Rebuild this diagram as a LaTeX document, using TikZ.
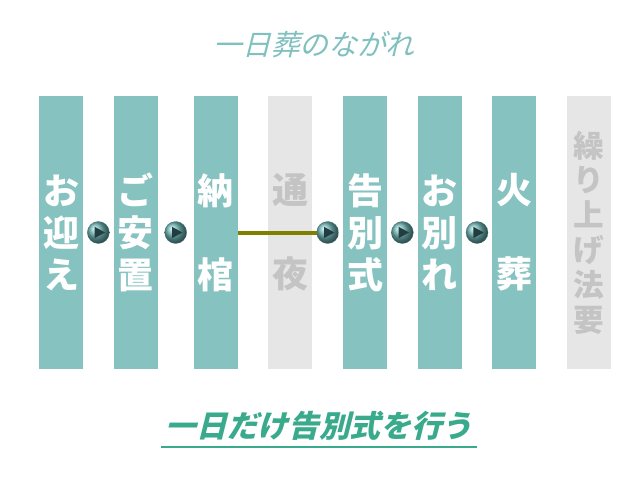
\documentclass[tikz,border=0pt]{standalone}
\usepackage{fontspec}
\newfontfamily\jpfont{Noto Sans CJK JP}
\newfontfamily\jpslant[FakeSlant=0.25]{Noto Sans CJK JP}
\usetikzlibrary{positioning}

\definecolor{barteal}{RGB}{133,194,192}
\definecolor{bargrey}{RGB}{230,230,230}
\definecolor{textgrey}{RGB}{196,196,196}
\definecolor{titleteal}{RGB}{128,192,190}
\definecolor{noteteal}{RGB}{58,170,140}
\definecolor{btnteal}{RGB}{110,180,180}
\definecolor{btntri}{RGB}{35,60,65}
\definecolor{lineolive}{RGB}{128,128,0}

\tikzset{
    stepbar/.style={rectangle, fill=barteal, text=white, inner sep=0pt,
        minimum width=33pt, minimum height=204.75pt, align=center,
        font=\jpfont\bfseries\fontsize{27}{31.5}\selectfont},
    skipbar/.style={stepbar, fill=bargrey, text=textgrey},
    nextbtn/.style={circle, minimum size=16.5pt, inner sep=0pt,
        ball color=btnteal, draw=btnteal!60!black, very thin,
        path picture={\fill[btntri]
            ([shift={(-2.75pt,4.25pt)}]path picture bounding box.center) --
            ([shift={(5pt,0pt)}]path picture bounding box.center) --
            ([shift={(-2.75pt,-4.25pt)}]path picture bounding box.center) -- cycle;}}
}

\begin{document}
\begin{tikzpicture}[
                        x=0.75pt, y=-0.75pt,
                        node distance=56pt
                    ]
                    \useasboundingbox [fill=white] (0,0) rectangle (639,480);

                    % Title
                    \node [text=titleteal, font=\jpslant\fontsize{21.5}{21.5}\selectfont] (title) at (314,45) {一日葬のながれ};

                    % Steps
                    \node [stepbar] (omukae) at (61,232.5) {お\\迎\\え};
                    \node [stepbar, right of=omukae] (goanchi) {ご\\安\\置};
                    \node [stepbar, right of=goanchi, node distance=60pt] (nokan) {納\\[31.5pt]棺};
                    \node [skipbar, right of=nokan] (tsuya) {通\\[31.5pt]夜};
                    \node [stepbar, right of=tsuya] (kokubetsu) {告\\別\\式};
                    \node [stepbar, right of=kokubetsu] (owakare) {お\\別\\れ};
                    \node [stepbar, right of=owakare] (kaso) {火\\[31.5pt]葬};
                    \node [skipbar, right of=kaso, font=\jpfont\bfseries\fontsize{23}{26.1}\selectfont] (kuriage) {繰\\り\\上\\げ\\法\\要};

                    % Buttons
                    \node [nextbtn, right of=omukae, node distance=28pt] (btna) {};
                    \node [nextbtn, right of=goanchi, node distance=30pt] (btnb) {};
                    \node [nextbtn, right of=tsuya, node distance=28pt] (btnc) {};
                    \node [nextbtn, right of=kokubetsu, node distance=28pt] (btnd) {};
                    \node [nextbtn, right of=owakare, node distance=28pt] (btne) {};

                    % Connections
                    \draw [lineolive, line width=3pt] (nokan.east) -- (btnc.west);

                    % Note
                    \node [text=noteteal, font=\jpslant\bfseries\fontsize{23}{23}\selectfont] (note) at (319,426) {一日だけ告別式を行う};
                    \draw [noteteal, line width=1.5pt] ([yshift=-1pt]note.south west) -- ([yshift=-1pt]note.south east);
                \end{tikzpicture}
\end{document}
